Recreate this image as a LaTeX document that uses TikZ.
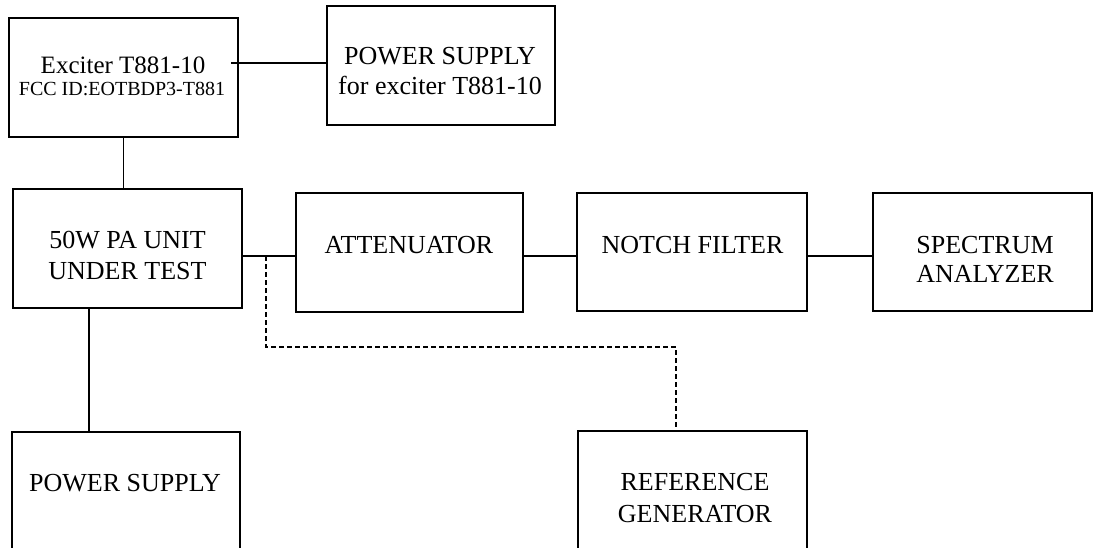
\documentclass[tikz,border=0pt]{standalone}
\usepackage{fontspec}
\setmainfont{Liberation Serif}
\begin{document}
\begin{tikzpicture}[x=1pt,y=-1pt,
  box/.style={draw,line width=1.8pt,rectangle,inner sep=0pt},
  conn/.style={line width=1.8pt},
  dconn/.style={line width=1.5pt,dash pattern=on 5pt off 3pt},
  lbl/.style={anchor=base,inner sep=0pt,font=\fontsize{26}{30}\selectfont},
  xlbl/.style={anchor=base,inner sep=0pt,font=\fontsize{25}{29}\selectfont},
  slbl/.style={anchor=base,inner sep=0pt,font=\fontsize{20}{24}\selectfont}]
\useasboundingbox (0,0) rectangle (1094,548);
\clip (0,0) rectangle (1094,548);
\fill[white] (0,0) rectangle (1094,548);
% boxes
\node[box,minimum width=229pt,minimum height=119pt] (exc) at (123.5,77.5) {};
\node[box,minimum width=228pt,minimum height=119pt] (psx) at (441,65.5) {};
\node[box,minimum width=229pt,minimum height=119pt] (pa) at (127.5,248.5) {};
\node[box,minimum width=227pt,minimum height=119pt] (att) at (409.5,252.5) {};
\node[box,minimum width=230pt,minimum height=118pt] (notch) at (692,252) {};
\node[box,minimum width=219pt,minimum height=118pt] (spec) at (982.5,252) {};
\node[box,minimum width=228pt,minimum height=168pt] (ps) at (126,516) {};
\node[box,minimum width=229pt,minimum height=169pt] (ref) at (692.5,515.5) {};
% labels
\node[xlbl] (excA) at (123,74) {Exciter T881-10};
\node[slbl] (excB) at (122,96) {FCC ID:EOTBDP3-T881};
\node[lbl] (psxA) at (440,65) {POWER SUPPLY};
\node[lbl] (psxB) at (440,95) {for exciter T881-10};
\node[lbl] (paA) at (127.5,248) {50W PA UNIT};
\node[lbl] (paB) at (127.5,279) {UNDER TEST};
\node[lbl] (attA) at (409,253) {ATTENUATOR};
\node[lbl] (notchA) at (692.5,253) {NOTCH FILTER};
\node[lbl] (specA) at (985,253) {SPECTRUM};
\node[lbl] (specB) at (985,282) {ANALYZER};
\node[lbl] (psA) at (125,491) {POWER SUPPLY};
\node[lbl] (refA) at (695,490) {REFERENCE};
\node[lbl] (refB) at (695,522) {GENERATOR};
% helper coordinates
\coordinate (e1) at (231,63);
\coordinate (j) at (266,256);
\coordinate (k) at (89,370);
\coordinate (c) at (676,347);
% connectors
\draw[conn] (e1) -- (psx.west |- e1);
\draw[conn] (exc.south) -- (exc.south |- pa.north);
\draw[conn] (pa.east |- j) -- (att.west |- j);
\draw[conn] (att.east |- j) -- (notch.west |- j);
\draw[conn] (notch.east |- j) -- (spec.west |- j);
\draw[conn] (pa.south -| k) -- (ps.north -| k);
\draw[dconn] (j) |- (c) -- (ref.north -| c);
\end{tikzpicture}
\end{document}
